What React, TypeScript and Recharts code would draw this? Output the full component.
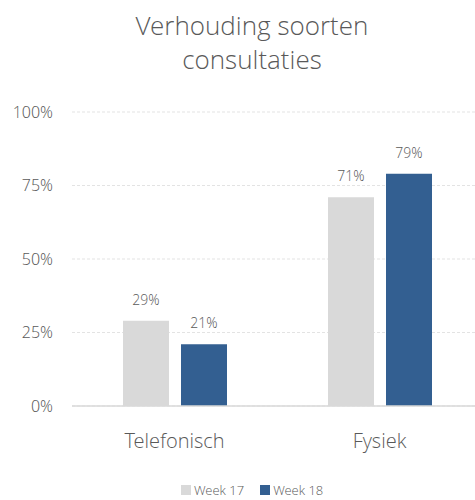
import React from 'react';
import {
  BarChart,
  Bar,
  XAxis,
  YAxis,
  CartesianGrid,
  LabelList,
} from 'recharts';

const categories = ['Telefonisch', 'Fysiek'];
const week17 = [29, 71];
const week18 = [21, 79];
const yTicks = [0, 25, 50, 75, 100];

const series = [
  { key: 'week17', name: 'Week 17', color: '#d9d9d9', values: week17 },
  { key: 'week18', name: 'Week 18', color: '#335f91', values: week18 },
];

const data = categories.map((name, i) => ({
  name,
  week17: week17[i],
  week18: week18[i],
}));

const FONT = '"Open Sans Light", "Open Sans", "Noto Sans", sans-serif';
const TEXT = '#595959';

const fmt = (v: number) => `${v}%`;

export default function App() {
  return (
    <div
      style={{
        position: 'absolute',
        top: 0,
        left: 0,
        width: 475,
        height: 500,
        overflow: 'hidden',
        background: '#fff',
        fontFamily: FONT,
        fontWeight: 300,
      }}
    >
      <div
        style={{
          position: 'absolute',
          top: 8,
          left: 52,
          width: 400,
          textAlign: 'center',
          fontSize: 26,
          lineHeight: '34px',
          color: TEXT,
        }}
      >
        Verhouding soorten
        <br />
        consultaties
      </div>

      <BarChart
        width={500}
        height={500}
        data={data}
        margin={{ top: 112, right: 18, left: 0, bottom: 64 }}
        barSize={46}
        barGap={12}
      >
        <CartesianGrid
          vertical={false}
          stroke="#e3e3e3"
          strokeDasharray="3 2"
        />
        <XAxis
          dataKey="name"
          height={30}
          tickLine={false}
          tickSize={0}
          tickMargin={28}
          axisLine={{ stroke: '#d9d9d9', strokeWidth: 1.5 }}
          tick={{ fill: TEXT, fontSize: 20, fontFamily: FONT, fontWeight: 300 }}
        />
        <YAxis
          width={72}
          domain={[0, 100]}
          ticks={yTicks}
          tickFormatter={fmt}
          axisLine={false}
          tickLine={false}
          tickSize={0}
          tickMargin={19}
          tick={{ fill: TEXT, fontSize: 16, fontFamily: FONT, fontWeight: 300 }}
        />
        {series.map((s) => (
          <Bar
            key={s.key}
            dataKey={s.key}
            name={s.name}
            fill={s.color}
            isAnimationActive={false}
          >
            <LabelList
              dataKey={s.key}
              position="top"
              offset={16}
              formatter={(v: number) => fmt(v)}
              style={{ fill: TEXT, fontSize: 14, fontFamily: FONT, fontWeight: 300 }}
            />
          </Bar>
        ))}
      </BarChart>

      <div
        style={{
          position: 'absolute',
          top: 482,
          left: 181,
          display: 'flex',
          alignItems: 'center',
          gap: 16,
          fontSize: 13,
          color: TEXT,
          lineHeight: '16px',
        }}
      >
        {series.map((s) => (
          <div key={s.key} style={{ display: 'flex', alignItems: 'center' }}>
            <span
              style={{
                display: 'inline-block',
                width: 10,
                height: 10,
                background: s.color,
                marginRight: 3,
              }}
            />
            {s.name}
          </div>
        ))}
      </div>
    </div>
  );
}
